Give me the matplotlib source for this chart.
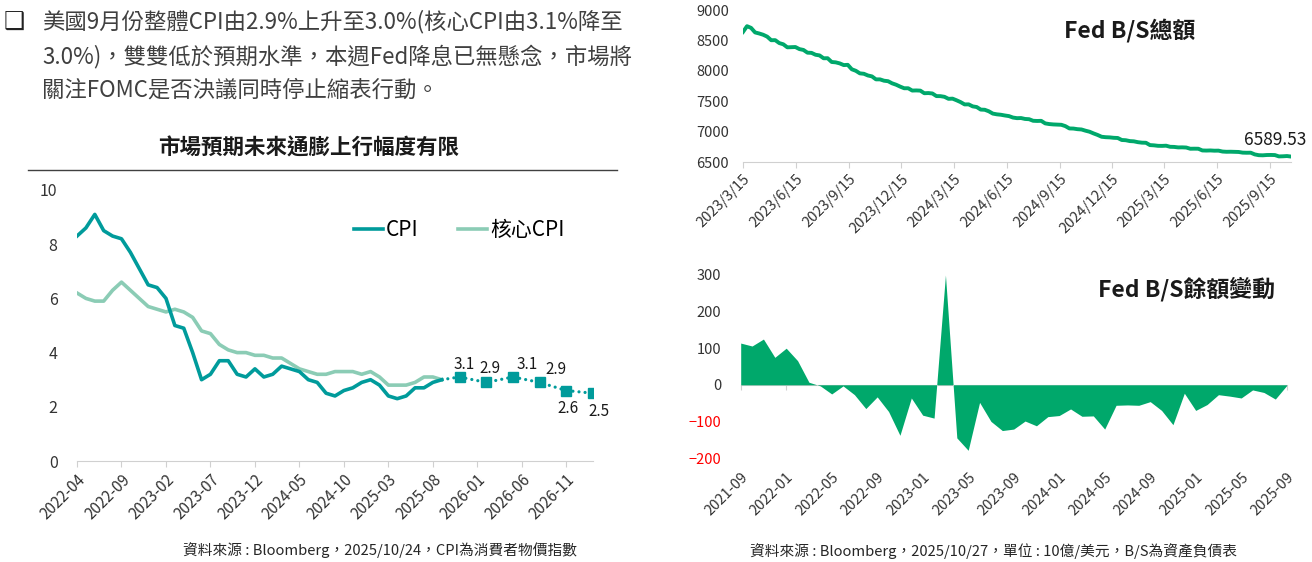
import pandas as pd
import matplotlib
matplotlib.use('Agg')
from matplotlib import pyplot as plt
from matplotlib.lines import Line2D

plt.rcParams['font.family'] = ['Noto Sans CJK TC', 'DejaVu Sans']

# ---------- left chart: CPI YoY (%) ----------
months = [str(p) for p in pd.period_range('2022-04', '2027-02', freq='M')]
cpi = [8.3, 8.6, 9.1, 8.5, 8.3, 8.2, 7.7, 7.1, 6.5,
       6.4, 6.0, 5.0, 4.9, 4.0, 3.0, 3.2, 3.7, 3.7, 3.2, 3.1, 3.4,
       3.1, 3.2, 3.5, 3.4, 3.3, 3.0, 2.9, 2.5, 2.4, 2.6, 2.7, 2.9,
       3.0, 2.8, 2.4, 2.3, 2.4, 2.7, 2.7, 2.9, 3.0]
core_cpi = [6.2, 6.0, 5.9, 5.9, 6.3, 6.6, 6.3, 6.0, 5.7,
            5.6, 5.5, 5.6, 5.5, 5.3, 4.8, 4.7, 4.3, 4.1, 4.0, 4.0, 3.9,
            3.9, 3.8, 3.8, 3.6, 3.4, 3.3, 3.2, 3.2, 3.3, 3.3, 3.3, 3.2,
            3.3, 3.1, 2.8, 2.8, 2.8, 2.9, 3.1, 3.1, 3.0]
fc_months = ['2025-11', '2026-02', '2026-05', '2026-08', '2026-11', '2027-02']
fc_cpi = [3.1, 2.9, 3.1, 2.9, 2.6, 2.5]

# ---------- right top: Fed balance sheet total (weekly, bn USD) ----------
bs_dates = pd.date_range('2023-03-15', '2025-10-22', freq='7D')
bs_total = [8639, 8734, 8706,
            8631, 8614, 8593, 8562,
            8503, 8504, 8456, 8436, 8386,
            8389, 8391, 8357, 8343,
            8298, 8295, 8264, 8253,
            8206, 8207, 8145, 8139, 8122,
            8094, 8098, 8025, 8000,
            7958, 7951, 7923, 7908,
            7859, 7859, 7837, 7829, 7794,
            7771, 7740, 7713, 7713,
            7675, 7677, 7674, 7631, 7634,
            7627, 7584, 7583, 7572,
            7539, 7542, 7515, 7485,
            7447, 7448, 7415, 7404,
            7362, 7359, 7334, 7296, 7284,
            7277, 7265, 7255, 7231,
            7221, 7223, 7208, 7204, 7178,
            7175, 7177, 7135, 7124,
            7118, 7115, 7112, 7090,
            7052, 7050, 7040, 7035, 7015,
            6998, 6970, 6945, 6915,
            6908, 6905, 6898, 6895,
            6862, 6858, 6844, 6840, 6826,
            6818, 6816, 6778, 6774,
            6766, 6765, 6768, 6750,
            6748, 6740, 6741, 6738, 6718,
            6719, 6718, 6690, 6688,
            6690, 6686, 6687, 6672,
            6668, 6669, 6667, 6665, 6654,
            6652, 6653, 6625, 6612,
            6610, 6615, 6616, 6614,
            6592, 6594, 6598, 6589.53]
bs_tick_dates = pd.date_range('2023-03-01', '2025-09-01', freq='3MS') + pd.Timedelta(days=14)

# ---------- right bottom: monthly change of Fed B/S (bn USD) ----------
chg_months = [str(p) for p in pd.period_range('2021-09', '2025-09', freq='M')]
bs_change = [114, 106, 125, 75, 100, 66, 7, -3, -25, -3, -27, -65, -33,
             -73, -138, -36, -83, -91, 300, -145, -179, -48, -100, -125,
             -121, -99, -112, -87, -84, -66, -86, -85, -121, -56, -55, -56,
             -46, -70, -109, -23, -70, -54, -27, -31, -36, -14, -21, -39, -2]

teal = '#009B9B'
mint = '#8BCCB5'
green = '#00A86B'
axis_gray = '#D0D0D0'
txt = '#333333'

fig = plt.figure(figsize=(13.12, 5.62), dpi=100)

def fx(px):
    return px / 1312

def fy(py):
    return 1 - py / 562

# header paragraph
fig.text(fx(4), fy(23), '❑', fontsize=17, color='#222222', va='center',
         family=['DejaVu Sans'])
para = ['美國9月份整體CPI由2.9%上升至3.0%(核心CPI由3.1%降至',
        '3.0%)，雙雙低於預期水準，本週Fed降息已無懸念，市場將',
        '關注FOMC是否決議同時停止縮表行動。']
for i, line in enumerate(para):
    fig.text(fx(42), fy(22 + 34 * i), line, fontsize=16.1, color='#404040', va='center')

fig.text(fx(309), fy(148), '市場預期未來通膨上行幅度有限', fontsize=15.5, weight='bold',
         color='#1a1a1a', ha='center', va='center')
fig.add_artist(Line2D([fx(28), fx(617)], [fy(170), fy(170)], color='#404040', lw=1))

# ---- left axes
ax1 = fig.add_axes([fx(77), fy(461), fx(516), (461 - 190) / 562])
x_act = list(range(len(cpi)))
ax1.plot(x_act, core_cpi, color=mint, lw=2.6, zorder=2)
ax1.plot(x_act, cpi, color=teal, lw=2.6, zorder=3)
fc_x = [months.index(m) for m in fc_months]
ax1.plot([x_act[-1]] + fc_x, [cpi[-1]] + fc_cpi, color=teal, lw=2.3,
         linestyle=(0, (0.01, 1.9)), dash_capstyle='round', zorder=3)
ax1.plot(fc_x, fc_cpi, linestyle='none', marker='s', ms=6.5, color=teal, zorder=4)
lbl_off = [(3, 9), (3, 10), (10, 9), (12, 9), (1, -13), (4, -13)]
for xv, yv, off in zip(fc_x, fc_cpi, lbl_off):
    ax1.annotate(f'{yv:.1f}', xy=(xv, yv), xytext=off, textcoords='offset points',
                 ha='center', va='center', fontsize=11, color='#1a1a1a')
ax1.set_xlim(0, len(months) - 1)
ax1.set_ylim(0, 10)
ax1.set_yticks(range(0, 11, 2))
ax1.set_xticks(range(0, len(months), 5))
ax1.set_xticklabels(months[::5], rotation=45, ha='right', rotation_mode='anchor',
                    fontsize=11, color=txt)
for s in ['top', 'right', 'left']:
    ax1.spines[s].set_visible(False)
ax1.spines['bottom'].set_color(axis_gray)
ax1.tick_params(axis='x', colors=axis_gray, length=4, pad=3, labelcolor=txt)
ax1.tick_params(axis='y', length=0, labelsize=11.5, labelcolor=txt, pad=14)
h_cpi = Line2D([], [], color=teal, lw=2.6)
h_core = Line2D([], [], color=mint, lw=2.6)
ax1.legend([h_cpi, h_core], ['CPI', '核心CPI'], ncol=2, loc='center left',
           bbox_to_anchor=(0.5, 0.852), frameon=False, fontsize=15,
           handlelength=1.4, handletextpad=0.15, columnspacing=1.9)
fig.text(fx(380), fy(550), '資料來源 : Bloomberg，2025/10/24，CPI為消費者物價指數',
         fontsize=10.6, color='#262626', ha='center', va='center')

# ---- right top axes
ax2 = fig.add_axes([fx(743), fy(162), fx(548), (162 - 10) / 562])
ax2.plot(bs_dates, bs_total, color=green, lw=2.8)
ax2.set_xlim(bs_dates[0], bs_dates[-1])
ax2.set_ylim(6500, 9000)
ax2.set_yticks(range(6500, 9001, 500))
ax2.set_xticks(bs_tick_dates)
ax2.set_xticklabels([f'{d.year}/{d.month}/{d.day}' for d in bs_tick_dates], rotation=45,
                    ha='right', rotation_mode='anchor', fontsize=10.5, color=txt)
for s in ['top', 'right', 'left']:
    ax2.spines[s].set_visible(False)
ax2.spines['bottom'].set_color(axis_gray)
ax2.tick_params(axis='x', colors=axis_gray, length=4, pad=3, labelcolor=txt)
ax2.tick_params(axis='y', length=0, labelsize=10.5, labelcolor=txt, pad=10)
ax2.annotate(f'{bs_total[-1]:.2f}', xy=(bs_dates[-1], bs_total[-1]), xytext=(-11.5, 12),
             textcoords='offset points', ha='center', va='center', fontsize=12.5,
             color='#1a1a1a')
ax2.text(0.706, 0.868, 'Fed B/S總額', transform=ax2.transAxes, fontsize=16.5,
         weight='bold', ha='center', va='center', color='#1a1a1a')

# ---- right bottom axes
ax3 = fig.add_axes([fx(740.7), fy(458), fx(546), (458 - 275) / 562])
x_chg = list(range(len(bs_change)))
ax3.fill_between(x_chg, 0, bs_change, color=green, lw=0)
ax3.set_xlim(0, len(bs_change) - 1)
ax3.set_ylim(-200, 300)
ax3.set_yticks(range(-200, 301, 100))
ax3.set_xticks(range(0, len(chg_months), 4))
ax3.set_xticklabels(chg_months[::4], rotation=45, ha='right', rotation_mode='anchor',
                    fontsize=10.5, color=txt)
for s in ax3.spines.values():
    s.set_visible(False)
ax3.tick_params(axis='x', length=0, pad=9, labelcolor=txt)
ax3.tick_params(axis='y', length=0, labelsize=10.5, pad=14)
for t, v in zip(ax3.get_yticklabels(), ax3.get_yticks()):
    t.set_color('#FF0000' if v < 0 else txt)
zero_loc = (0 - (-200)) / (300 - (-200))
sec = ax3.secondary_xaxis(zero_loc)
sec.set_xticks(range(0, len(chg_months), 4))
sec.set_xticklabels([])
sec.spines['bottom'].set_color(axis_gray)
sec.tick_params(axis='x', colors=axis_gray, length=3.5)
ax3.text(0.816, 0.923, 'Fed B/S餘額變動', transform=ax3.transAxes, fontsize=16.5,
         weight='bold', ha='center', va='center', color='#1a1a1a')
fig.text(fx(993), fy(551), '資料來源 : Bloomberg，2025/10/27，單位 : 10億/美元，B/S為資產負債表',
         fontsize=10.6, color='#262626', ha='center', va='center')

assert len(bs_total) == len(bs_dates)
fig.savefig('out.png', dpi=100)
